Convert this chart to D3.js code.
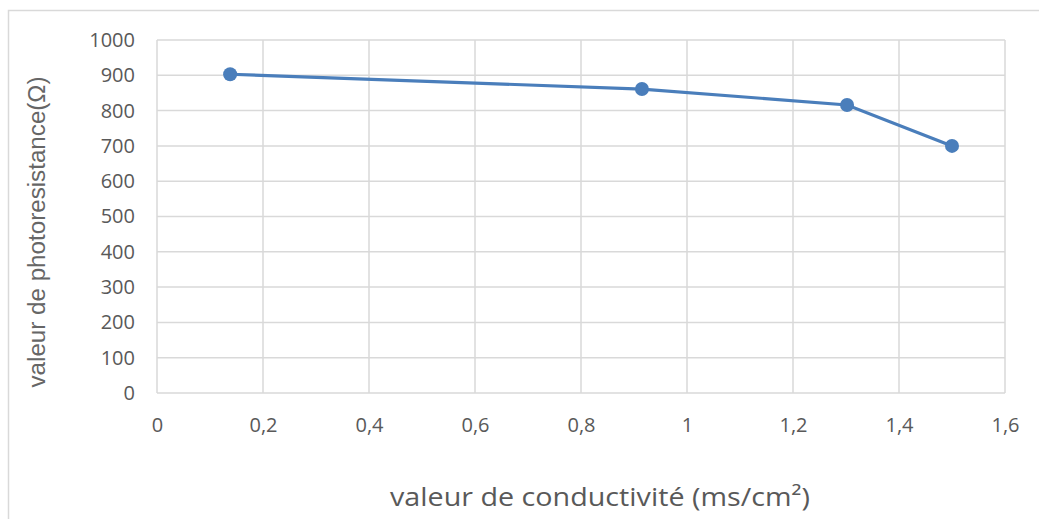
<!DOCTYPE html>
<html><head><meta charset="utf-8">
<script src="https://cdn.jsdelivr.net/npm/d3@7"></script>
<style>body{margin:0;background:#fff}svg{display:block}</style>
</head><body>
<svg id="c" width="1039" height="519"></svg>
<script>
const conductivity = [0.138, 0.915, 1.302, 1.5];
const resistance = [903, 861, 816, 700];
const xTicks = [0, 0.2, 0.4, 0.6, 0.8, 1, 1.2, 1.4, 1.6];
const yTicks = [0, 100, 200, 300, 400, 500, 600, 700, 800, 900, 1000];
const xTitle = "valeur de conductivité (ms/cm²)";
const yTitle = "valeur de photoresistance(Ω)";

const svg = d3.select("#c");
svg.append("rect").attr("x", 8.5).attr("y", 10.5).attr("width", 1100).attr("height", 600)
  .attr("fill", "#fff").attr("stroke", "#d9d9d9").attr("stroke-width", 1.5);

const x = d3.scaleLinear().domain([0, 1.6]).range([157, 1005]);
const y = d3.scaleLinear().domain([0, 1000]).range([393, 40]);
const fmt = d => String(d).replace(".", ",");
const tickFont = "'Open Sans', 'Liberation Sans', sans-serif";

const g = svg.append("g");
g.selectAll(".hg").data(yTicks).join("line")
  .attr("x1", x(0)).attr("x2", x(1.6)).attr("y1", d => y(d)).attr("y2", d => y(d))
  .attr("stroke", "#d9d9d9").attr("stroke-width", 1.5);
g.selectAll(".vg").data(xTicks).join("line")
  .attr("y1", y(0)).attr("y2", y(1000)).attr("x1", d => x(d)).attr("x2", d => x(d))
  .attr("stroke", "#d9d9d9").attr("stroke-width", 1.5);

const yAxis = d3.axisLeft(y).tickValues(yTicks).tickSize(0).tickPadding(22).tickFormat(d => d);
svg.append("g").attr("transform", `translate(${x(0)},0)`).call(yAxis)
  .call(a => a.select(".domain").remove())
  .selectAll("text").attr("font-family", tickFont)
  .attr("font-size", 20).attr("fill", "#595959");

const xAxis = d3.axisBottom(x).tickValues(xTicks).tickSize(0).tickPadding(25).tickFormat(fmt);
svg.append("g").attr("transform", `translate(0,${y(0)})`).call(xAxis)
  .call(a => a.select(".domain").remove())
  .selectAll("text").attr("font-family", tickFont)
  .attr("font-size", 20).attr("fill", "#595959");

const pts = conductivity.map((c, i) => [c, resistance[i]]);
svg.append("path").datum(pts)
  .attr("d", d3.line().x(d => x(d[0])).y(d => y(d[1])))
  .attr("fill", "none").attr("stroke", "#4a7ebb").attr("stroke-width", 3.2);
svg.selectAll(".pt").data(pts).join("circle")
  .attr("cx", d => x(d[0])).attr("cy", d => y(d[1])).attr("r", 7)
  .attr("fill", "#4a7ebb");

svg.append("text").attr("x", 600).attr("y", 506).attr("text-anchor", "middle")
  .attr("font-family", tickFont).attr("font-size", 26)
  .attr("fill", "#595959").attr("textLength", 420).attr("lengthAdjust", "spacingAndGlyphs").text(xTitle);

svg.append("text").attr("transform", "translate(45,232) rotate(-90)").attr("text-anchor", "middle")
  .attr("font-family", "'Liberation Sans Narrow', 'Liberation Sans', sans-serif").attr("font-size", 23)
  .attr("fill", "#666").attr("textLength", 311).attr("lengthAdjust", "spacingAndGlyphs").text(yTitle);
</script>
</body></html>
